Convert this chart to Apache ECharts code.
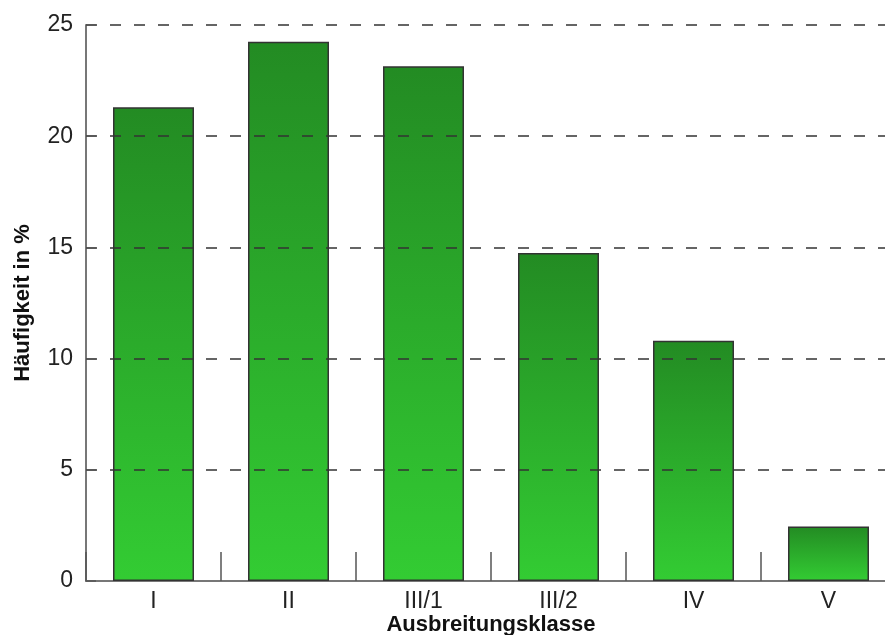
<!DOCTYPE html>
<html><head><meta charset="utf-8">
<script src="https://cdn.jsdelivr.net/npm/echarts@6/dist/echarts.min.js"></script>
<style>html,body{margin:0;padding:0;background:#fff}#c{width:885px;height:635px}</style>
</head><body><div id="c"></div>
<script>
const categories = ['I', 'II', 'III/1', 'III/2', 'IV', 'V'];
const values = [21.3, 24.25, 23.15, 14.75, 10.8, 2.45];
const yTicks = [0, 5, 10, 15, 20, 25];

const chart = echarts.init(document.getElementById('c'), null, {renderer: 'canvas'});
const font = 'Liberation Sans, Arial, sans-serif';
chart.setOption({
  animation: false,
  backgroundColor: '#fff',
  grid: {left: 86, top: 25, bottom: 54, width: 810, containLabel: false, outerBoundsMode: 'none'},
  xAxis: {
    type: 'category',
    data: categories,
    name: 'Ausbreitungsklasse',
    nameLocation: 'middle',
    nameGap: 33,
    nameMoveOverlap: false,
    nameTextStyle: {fontFamily: font, fontSize: 22, fontWeight: 'bold', color: '#111'},
    axisLine: {lineStyle: {color: '#777', width: 2}},
    axisTick: {show: true, inside: true, length: 29, alignWithLabel: false, lineStyle: {color: '#555', width: 1.5}},
    axisLabel: {fontFamily: font, fontSize: 23, color: '#222', margin: 9},
    splitLine: {show: false}
  },
  yAxis: [{
    type: 'value',
    min: yTicks[0],
    max: yTicks[yTicks.length - 1],
    interval: 5,
    z: 5,
    axisLine: {show: false},
    axisTick: {show: true, inside: true, length: 10, lineStyle: {color: '#555', width: 1.5}},
    axisLabel: {fontFamily: font, fontSize: 23, color: '#222', margin: 13},
    splitLine: {show: true, showMinLine: false, lineStyle: {color: '#333', type: [11, 13], dashOffset: 0, width: 1.5}}
  }, {
    type: 'value',
    position: 'left',
    min: 0,
    max: 25.45,
    name: 'Häufigkeit in %',
    nameLocation: 'middle',
    nameGap: 52,
    nameRotate: 90,
    nameMoveOverlap: false,
    nameTextStyle: {fontFamily: font, fontSize: 22, fontWeight: 'bold', color: '#111'},
    axisLine: {show: true, lineStyle: {color: '#777', width: 2}},
    axisTick: {show: false},
    axisLabel: {show: false},
    splitLine: {show: false}
  }],
  series: [{
    type: 'bar',
    data: values,
    barWidth: 81,
    yAxisIndex: 0,
    itemStyle: {
      borderColor: '#333',
      borderWidth: 1.5,
      color: new echarts.graphic.LinearGradient(0, 0, 0, 1, [
        {offset: 0, color: '#238B23'},
        {offset: 1, color: '#33CC33'}
      ])
    }
  }]
});
</script></body></html>
